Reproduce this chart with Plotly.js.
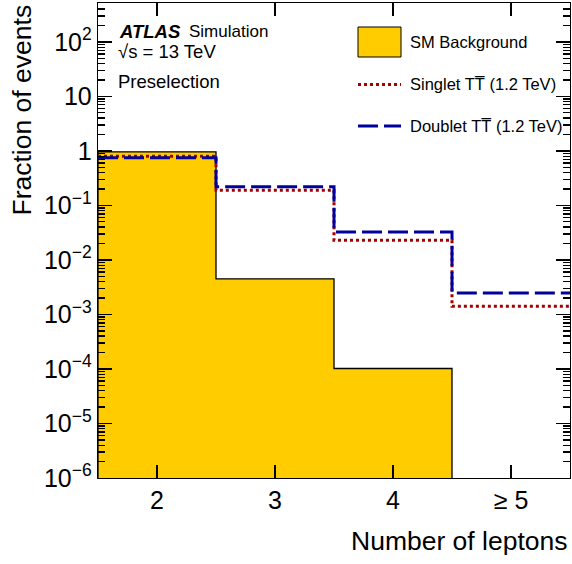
<!DOCTYPE html>
<html>
<head>
<meta charset="utf-8">
<script src="https://cdn.plot.ly/plotly-3.0.1.min.js"></script>
<style>html,body{margin:0;padding:0;background:#fff;}#plot{width:572px;height:564px;}</style>
</head>
<body>
<div id="plot"></div>
<script>
// ---- data ----
const binLabels = ['2', '3', '4', '\u2265 5'];
const binCenters = [2, 3, 4, 5];
const smBackground = [0.96, 4.5e-3, 1.02e-4, 0];
const singletTT = [0.80, 0.189, 0.023, 1.41e-3];
const doubletTT = [0.745, 0.22, 0.0327, 2.47e-3];
const yTickVals = [1e-6, 1e-5, 1e-4, 1e-3, 1e-2, 1e-1, 1, 10, 100];
const yTickText = ['10<sup>\u22126</sup>', '10<sup>\u22125</sup>', '10<sup>\u22124</sup>', '10<sup>\u22123</sup>',
                   '10<sup>\u22122</sup>', '10<sup>\u22121</sup>', '1', '10', '10<sup>2</sup>'];

// ---- layout helpers ----
const W = 572, H = 564;
const M = {l: 98, r: 2, t: 3, b: 86};
const PW = W - M.l - M.r, PH = H - M.t - M.b;
const px = x => (x - M.l) / PW;
const py = y => (H - M.b - y) / PH;
const FONT = 'Liberation Sans, Arial, Helvetica, sans-serif';
const YRANGE = [-6, 2.713];
const XRANGE = [1.5, 5.5];

function stepXY(centers, vals, keepZero) {
  const x = [], y = [];
  centers.forEach((c, i) => {
    if (!keepZero && !(vals[i] > 0)) return;
    x.push(c - 0.5, c + 0.5);
    y.push(vals[i], vals[i]);
  });
  return {x, y};
}

const bk = stepXY(binCenters, smBackground, false);
const floorV = 1e-8;
const bkX = [bk.x[0]].concat(bk.x, [bk.x[bk.x.length - 1]]);
const bkY = [floorV].concat(bk.y, [floorV]);
const sg = stepXY(binCenters, singletTT, true);
const db = stepXY(binCenters, doubletTT, true);

const RED = '#a50000', BLUE = '#00009c', YEL = '#ffcc00';

const minorVals = [];
for (let k = -6; k <= 2; k++) for (let m = 2; m <= 9; m++) {
  const v = m * Math.pow(10, k);
  if (Math.log10(v) < YRANGE[1]) minorVals.push(v);
}

const traces = [
  {x: bkX, y: bkY, type: 'scatter', mode: 'lines', fill: 'toself', fillcolor: YEL,
   line: {color: '#000', width: 1.3}, showlegend: false},
  {x: sg.x, y: sg.y, type: 'scatter', mode: 'lines',
   line: {color: RED, width: 3, dash: 'dot'}, showlegend: false},
  {x: db.x, y: db.y, type: 'scatter', mode: 'lines',
   line: {color: BLUE, width: 3, dash: '20px,6px'}, showlegend: false}
];

const layout = {
  width: W, height: H, margin: M, paper_bgcolor: '#fff', plot_bgcolor: '#fff',
  showlegend: false,
  xaxis: {
    range: XRANGE, tickmode: 'array', tickvals: binCenters, ticktext: binLabels,
    ticks: 'inside', ticklen: 13, tickwidth: 1.3, tickcolor: '#000',
    showline: true, mirror: 'ticks', linecolor: '#000', linewidth: 1.3,
    showgrid: false, zeroline: false,
    tickfont: {family: FONT, size: 25, color: '#000'}
  },
  yaxis: {
    type: 'log', range: YRANGE, tickmode: 'array', tickvals: yTickVals, ticktext: yTickText,
    ticks: 'inside', ticklen: 14, tickwidth: 1.3, tickcolor: '#000',
    showline: true, mirror: 'ticks', linecolor: '#000', linewidth: 1.3,
    showgrid: false, zeroline: false,
    tickfont: {family: FONT, size: 25, color: '#000'},
    minor: {tickmode: 'array', tickvals: minorVals, ticks: 'inside', ticklen: 7, tickcolor: '#000', tickwidth: 1.3, showgrid: false}
  }
};

const annotations = [
  {x: px(117), y: py(32), xref: 'paper', yref: 'paper', xanchor: 'left', yanchor: 'middle', showarrow: false,
   text: '<b><i>ATLAS</i></b>', font: {family: FONT, size: 18.5, color: '#000'}},
  {x: px(187), y: py(32), xref: 'paper', yref: 'paper', xanchor: 'left', yanchor: 'middle', showarrow: false,
   text: 'Simulation', font: {family: FONT, size: 17, color: '#000'}},
  {x: px(116), y: py(51), xref: 'paper', yref: 'paper', xanchor: 'left', yanchor: 'middle', showarrow: false,
   text: '\u221As = 13 TeV', font: {family: FONT, size: 18.5, color: '#000'}},
  {x: px(116), y: py(81), xref: 'paper', yref: 'paper', xanchor: 'left', yanchor: 'middle', showarrow: false,
   text: 'Preselection', font: {family: FONT, size: 18.5, color: '#000'}},
  {x: px(408), y: py(42), xref: 'paper', yref: 'paper', xanchor: 'left', yanchor: 'middle', showarrow: false,
   text: 'SM Background', font: {family: FONT, size: 16.5, color: '#000'}},
  {x: px(408), y: py(84), xref: 'paper', yref: 'paper', xanchor: 'left', yanchor: 'middle', showarrow: false,
   text: 'Singlet TT\u0305 (1.2 TeV)', font: {family: FONT, size: 16.5, color: '#000'}},
  {x: px(408), y: py(126), xref: 'paper', yref: 'paper', xanchor: 'left', yanchor: 'middle', showarrow: false,
   text: 'Doublet TT\u0305 (1.2 TeV)', font: {family: FONT, size: 16.5, color: '#000'}},
  {x: px(570), y: py(541), xref: 'paper', yref: 'paper', xanchor: 'right', yanchor: 'middle', showarrow: false,
   text: 'Number of leptons', font: {family: FONT, size: 26.5, color: '#000'}},
  {x: px(21), y: py(3), xref: 'paper', yref: 'paper', xanchor: 'center', yanchor: 'top', showarrow: false,
   textangle: -90, text: 'Fraction of events', font: {family: FONT, size: 26.5, color: '#000'}}
];

const shapes = [
  {type: 'rect', xref: 'paper', yref: 'paper', x0: px(358), x1: px(401), y0: py(57), y1: py(27),
   fillcolor: YEL, line: {color: '#000', width: 1}},
  {type: 'line', xref: 'paper', yref: 'paper', x0: px(358), x1: px(401), y0: py(84.5), y1: py(84.5),
   line: {color: RED, width: 3, dash: 'dot'}},
  {type: 'line', xref: 'paper', yref: 'paper', x0: px(358), x1: px(401), y0: py(126), y1: py(126),
   line: {color: BLUE, width: 3, dash: '20px,6px'}}
];

const gd = document.getElementById('plot');
Plotly.newPlot(gd, traces, layout, {staticPlot: true})
  .then(() => Plotly.relayout(gd, {shapes: shapes}))
  .catch(() => {})
  .then(() => Plotly.relayout(gd, {annotations: annotations}))
  .catch(() => {});
</script>
</body>
</html>
